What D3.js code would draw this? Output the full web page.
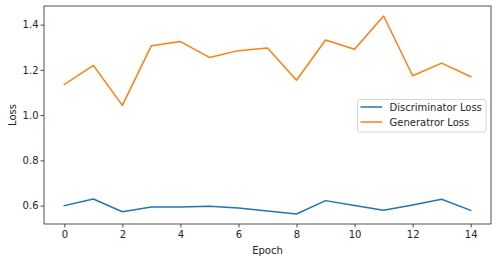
<!DOCTYPE html>
<html>
<head>
<meta charset="utf-8">
<script src="https://cdn.jsdelivr.net/npm/d3@7"></script>
<style>
  body { margin: 0; background: #fff; }
  text { font-family: "DejaVu Sans", sans-serif; }
</style>
</head>
<body>
<script>
// data
var epochs = [0, 1, 2, 3, 4, 5, 6, 7, 8, 9, 10, 11, 12, 13, 14];
var discLoss = [0.600, 0.629, 0.573, 0.594, 0.594, 0.597, 0.589, 0.576, 0.563, 0.622, 0.600, 0.579, 0.603, 0.628, 0.579];
var genLoss = [1.135, 1.220, 1.043, 1.307, 1.325, 1.255, 1.285, 1.297, 1.154, 1.332, 1.291, 1.438, 1.174, 1.230, 1.170];
var xTicks = [0, 2, 4, 6, 8, 10, 12, 14];
var yTicks = [0.6, 0.8, 1.0, 1.2, 1.4];
var seriesNames = ["Discriminator Loss", "Generatror Loss"];
var colors = ["#1f77b4", "#ff7f0e"];

var width = 497, height = 262;
var margin = ({top: 6, right: 6, bottom: 38, left: 44});

var x = d3.scaleLinear()
    .domain([-0.7, 14.7])
    .range([margin.left, width - margin.right]);

var y = d3.scaleLinear()
    .domain([0.5187, 1.4823])
    .range([height - margin.bottom, margin.top]);

var svg = d3.select("body").append("svg")
    .attr("width", width)
    .attr("height", height);

var xAxis = g => g
    .attr("transform", `translate(0,${height - margin.bottom})`)
    .call(d3.axisBottom(x).tickValues(xTicks).tickFormat(d3.format("d")).tickSize(3.5).tickPadding(3.5).tickSizeOuter(0));

var yAxis = g => g
    .attr("transform", `translate(${margin.left},0)`)
    .call(d3.axisLeft(y).tickValues(yTicks).tickFormat(d3.format(".1f")).tickSize(3.5).tickPadding(2).tickSizeOuter(0));

svg.append("g").call(xAxis);
svg.append("g").call(yAxis);

svg.selectAll(".tick text")
    .attr("font-size", 10)
    .attr("font-family", "DejaVu Sans, sans-serif")
    .attr("fill", "#262626");
svg.selectAll(".tick line").attr("stroke", "#262626").attr("stroke-width", 0.8);
svg.selectAll(".domain").remove();

var line = vals => d3.line()
    .x((d, i) => x(epochs[i]))
    .y(d => y(d))(vals);

[discLoss, genLoss].forEach((vals, k) => {
  svg.append("path")
      .attr("d", line(vals))
      .attr("fill", "none")
      .attr("stroke", colors[k])
      .attr("stroke-width", 1.5)
      .attr("stroke-linejoin", "round")
      .attr("stroke-linecap", "square");
});

// frame
svg.append("rect")
    .attr("x", margin.left)
    .attr("y", margin.top)
    .attr("width", width - margin.right - margin.left)
    .attr("height", height - margin.bottom - margin.top)
    .attr("fill", "none")
    .attr("stroke", "#262626")
    .attr("stroke-width", 0.8);

// axis labels
svg.append("text")
    .attr("x", (margin.left + width - margin.right) / 2)
    .attr("y", 254)
    .attr("text-anchor", "middle")
    .attr("font-size", 10)
    .attr("fill", "#262626")
    .text("Epoch");

svg.append("text")
    .attr("transform", `translate(15.5,${(margin.top + height - margin.bottom) / 2}) rotate(-90)`)
    .attr("text-anchor", "middle")
    .attr("font-size", 10)
    .attr("fill", "#262626")
    .text("Loss");

// legend
var leg = svg.append("g").attr("transform", "translate(357.5,99.5)");
leg.append("rect")
    .attr("width", 128.5)
    .attr("height", 32.5)
    .attr("rx", 2)
    .attr("fill", "#fff")
    .attr("fill-opacity", 0.8)
    .attr("stroke", "#cccccc")
    .attr("stroke-width", 0.8);

seriesNames.forEach((name, k) => {
  var ly = 7.5 + k * 15;
  leg.append("line")
      .attr("x1", 3).attr("x2", 24.5)
      .attr("y1", ly).attr("y2", ly)
      .attr("stroke", colors[k])
      .attr("stroke-width", 1.5);
  leg.append("text")
      .attr("x", 32)
      .attr("y", ly + 3.6)
      .attr("font-size", 10)
      .attr("fill", "#262626")
      .text(name);
});
</script>
</body>
</html>
